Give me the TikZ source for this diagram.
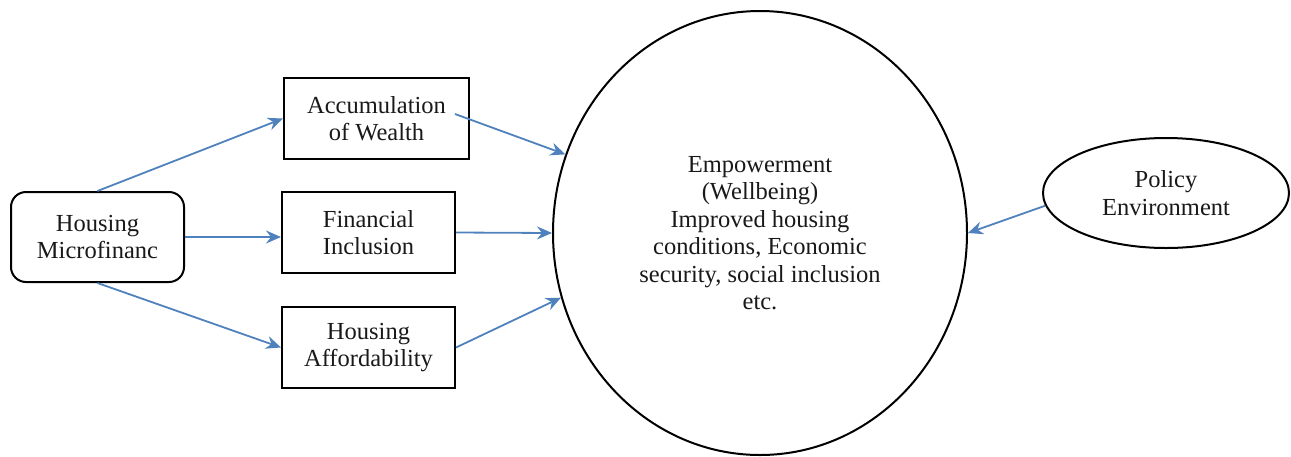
\documentclass[tikz,border=0pt]{standalone}
\usepackage{fontspec}
\setmainfont{Liberation Serif}
\usetikzlibrary{arrows.meta,shapes.geometric}
\definecolor{arrblue}{RGB}{79,129,189}
\tikzset{
  txt/.style={font=\fontsize{24.5pt}{27.5pt}\selectfont, align=center, text=black!90},
  box/.style={txt, draw=black, line width=2pt, rectangle, inner sep=0pt},
  oval/.style={txt, draw=black, line width=2pt, ellipse, inner sep=0pt},
  conn/.style={draw=arrblue, line width=1.8pt, -{Stealth[length=15pt,width=13pt,inset=5pt]}}
}
\begin{document}
\begin{tikzpicture}[x=1pt,y=-1pt]
\useasboundingbox (0,0) rectangle (1291,456);
\node[box, rounded corners=15pt, minimum width=173pt, minimum height=90pt] (hm) at (97.5,237) {Housing\\Microfinanc};
\node[box, minimum width=185pt, minimum height=81pt] (acc) at (376.5,118.5) {Accumulation\\of Wealth};
\node[box, minimum width=173pt, minimum height=81pt] (fin) at (368.5,232.5) {Financial\\Inclusion};
\node[box, minimum width=173pt, minimum height=81pt] (aff) at (368.5,347.5) {Housing\\Affordability};
\node[oval, minimum width=414pt, minimum height=444pt] (emp) at (760,233) {Empowerment\\(Wellbeing)\\Improved housing\\conditions, Economic\\security, social inclusion\\etc.};
\node[oval, minimum width=246pt, minimum height=110pt] (pol) at (1166,193) {Policy\\Environment};
\coordinate (accout) at (455,114);
\draw[conn] (hm.north) -- (acc.west);
\draw[conn] (hm.east) -- (hm.east -| fin.west);
\draw[conn] (hm.south) -- (aff.west);
\draw[conn] (accout) -- (emp.158);
\draw[conn] (fin.east) -- (emp.west);
\draw[conn] (aff.east) -- (emp.198);
\draw[conn] (pol.186) -- (emp.east);
\end{tikzpicture}
\end{document}
